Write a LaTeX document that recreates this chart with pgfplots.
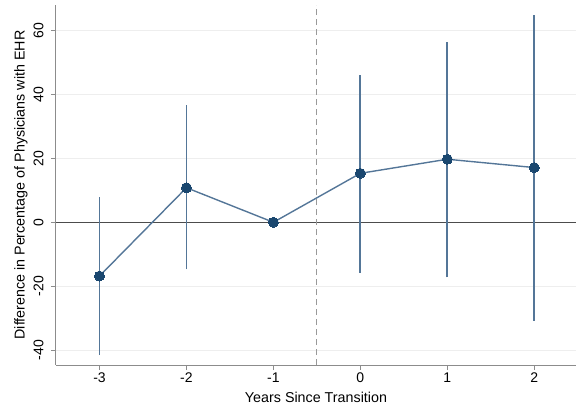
\documentclass[border=0pt]{standalone}
\usepackage{fontspec}
\setmainfont{Liberation Sans}
\usepackage{pgfplots}
\pgfplotsset{compat=1.18}
\definecolor{navy}{RGB}{26,71,111}
\definecolor{cicol}{RGB}{84,118,152}
\definecolor{spine}{RGB}{140,140,140}
\definecolor{gridc}{RGB}{238,238,238}
\begin{document}
\begin{tikzpicture}
\begin{axis}[
  scale only axis,
  width=520pt, height=360pt,
  xmin=-3.5, xmax=2.48,
  ymin=-44.6, ymax=67.9,
  axis x line*=bottom, axis y line*=left,
  axis line style={spine, line width=1pt, -},
  xtick={-3,-2,-1,0,1,2},
  ytick={-40,-20,0,20,40,60},
  tick align=outside,
  major tick length=5pt,
  tick style={spine, line width=1pt},
  ymajorgrids,
  grid style={gridc, line width=1.2pt},
  /pgf/number format/assume math mode=true,
  tick label style={font=\fontsize{14}{17}\selectfont},
  yticklabel style={rotate=90, anchor=south, yshift=4pt},
  xticklabel style={yshift=1pt},
  label style={font=\fontsize{14.3}{17}\selectfont},
  xlabel={Years Since Transition},
  ylabel={Difference in Percentage of Physicians with EHR},
  xlabel style={yshift=-3pt},
  ylabel style={yshift=-1pt},
  clip=false,
]
\addplot[black!70, line width=1pt, forget plot] coordinates {(-3.5,0) (2.48,0)};
\addplot[black!40, line width=1.2pt, dash pattern=on 6pt off 4pt, forget plot] coordinates {(-0.5,-44.6) (-0.5,67.9)};
\addplot[cicol, line width=1.8pt] coordinates {(-3,-41.5) (-3,8.0)};
\addplot[cicol, line width=1.8pt] coordinates {(-2,-14.7) (-2,36.6)};
\addplot[cicol, line width=1.8pt] coordinates {(0,-15.7) (0,46.0)};
\addplot[cicol, line width=1.8pt] coordinates {(1,-17.2) (1,56.4)};
\addplot[cicol, line width=1.8pt] coordinates {(2,-30.7) (2,64.8)};
\addplot[cicol, line width=1.4pt, mark=*, mark size=5pt, mark options={navy, fill=navy, line width=0pt}] coordinates {
(-3,-16.8) (-2,10.8) (-1,0) (0,15.3) (1,19.7) (2,17.1)};
\end{axis}
\pgfresetboundingbox
\path[use as bounding box] ([xshift=-56pt,yshift=-43pt]current axis.south west) rectangle ([yshift=5pt]current axis.north east);
\end{tikzpicture}
\end{document}
